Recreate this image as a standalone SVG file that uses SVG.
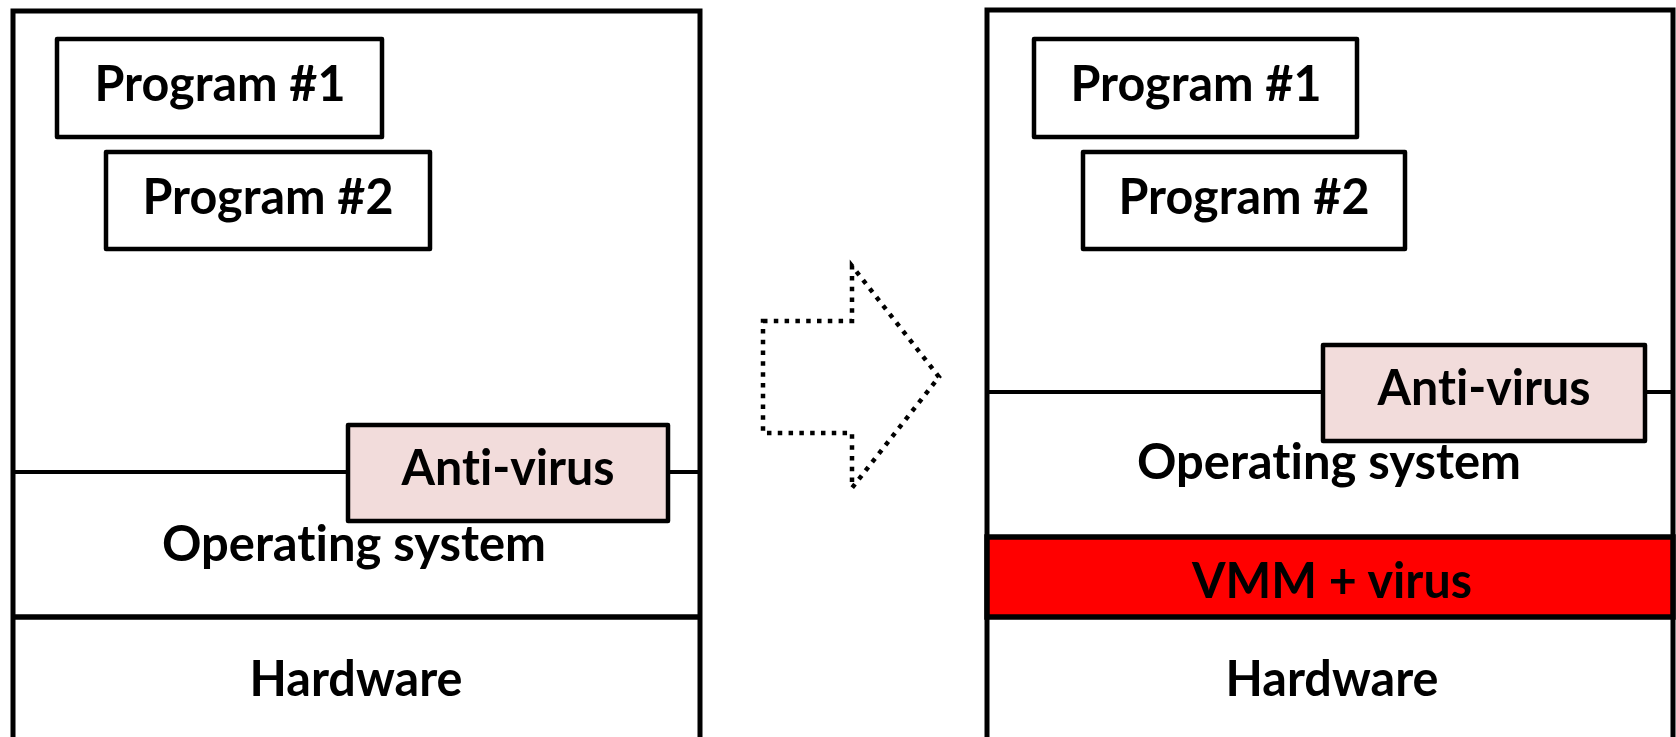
<svg xmlns="http://www.w3.org/2000/svg" width="1676" height="737" viewBox="0 0 1676 737">
  <style>
    .frame { fill: none; stroke: #000; stroke-width: 5; }
    .sep { fill: none; stroke: #000; stroke-width: 4; }
    .septhick { fill: none; stroke: #000; stroke-width: 5.5; }
    .box { fill: #fff; stroke: #000; stroke-width: 4.5; stroke-linejoin: round; }
    .av { fill: #f2dcdb; stroke: #000; stroke-width: 4.5; stroke-linejoin: round; }
    .vmm { fill: #ff0000; stroke: #000; stroke-width: 5.5; }
    .lbl { font-family: Lato, "Open Sans", "Liberation Sans", sans-serif; font-weight: 700; font-size: 49px; fill: #000; text-anchor: middle; font-variant-ligatures: none; font-feature-settings: "liga" 0, "dlig" 0; }
    .arrow { fill: none; stroke: #000; stroke-width: 4.5; stroke-dasharray: 4.5 6.3; }
  </style>
  <rect width="1676" height="737" fill="#fff"/>

  <g id="left-panel">
    <path class="frame" d="M13,737 V11 H700 V737"/>
    <line class="sep" x1="13" y1="472" x2="700" y2="472"/>
    <line class="septhick" x1="13" y1="617" x2="700" y2="617"/>
  </g>
  <g id="left-program1">
    <rect class="box" x="57" y="39" width="325" height="98"/>
    <text class="lbl" x="220" y="101" textLength="251" lengthAdjust="spacingAndGlyphs">Program #1</text>
  </g>
  <g id="left-program2">
    <rect class="box" x="106" y="152" width="324" height="97"/>
    <text class="lbl" x="268" y="214" textLength="251" lengthAdjust="spacingAndGlyphs">Program #2</text>
  </g>
  <g id="left-antivirus">
    <rect class="av" x="348" y="425" width="320" height="96"/>
    <text class="lbl" x="508" y="485" textLength="213" lengthAdjust="spacingAndGlyphs">Anti-virus</text>
  </g>
  <g id="left-os">
    <text class="lbl" x="354" y="561" textLength="384" lengthAdjust="spacingAndGlyphs">Operating system</text>
  </g>
  <g id="left-hardware">
    <text class="lbl" x="356" y="696" textLength="213" lengthAdjust="spacingAndGlyphs">Hardware</text>
  </g>

  <g id="connectors">
    <path class="arrow" d="M763,321 H852 V266 L939,377 L852,488 V433 H763 Z"/>
  </g>

  <g id="right-panel">
    <path class="frame" d="M987,737 V10 H1673 V737"/>
    <line class="sep" x1="987" y1="392" x2="1673" y2="392"/>
  </g>
  <g id="right-program1">
    <rect class="box" x="1034" y="39" width="323" height="98"/>
    <text class="lbl" x="1196" y="101" textLength="251" lengthAdjust="spacingAndGlyphs">Program #1</text>
  </g>
  <g id="right-program2">
    <rect class="box" x="1083" y="152" width="322" height="97"/>
    <text class="lbl" x="1244" y="214" textLength="251" lengthAdjust="spacingAndGlyphs">Program #2</text>
  </g>
  <g id="right-antivirus">
    <rect class="av" x="1323" y="345" width="322" height="96"/>
    <text class="lbl" x="1484" y="405" textLength="213" lengthAdjust="spacingAndGlyphs">Anti-virus</text>
  </g>
  <g id="right-os">
    <text class="lbl" x="1329" y="479" textLength="384" lengthAdjust="spacingAndGlyphs">Operating system</text>
  </g>
  <g id="right-vmm">
    <rect class="vmm" x="987" y="537" width="686" height="80"/>
    <text class="lbl" x="1332" y="598" textLength="280" lengthAdjust="spacingAndGlyphs">VMM + virus</text>
  </g>
  <g id="right-hardware">
    <text class="lbl" x="1332" y="696" textLength="213" lengthAdjust="spacingAndGlyphs">Hardware</text>
  </g>
</svg>
